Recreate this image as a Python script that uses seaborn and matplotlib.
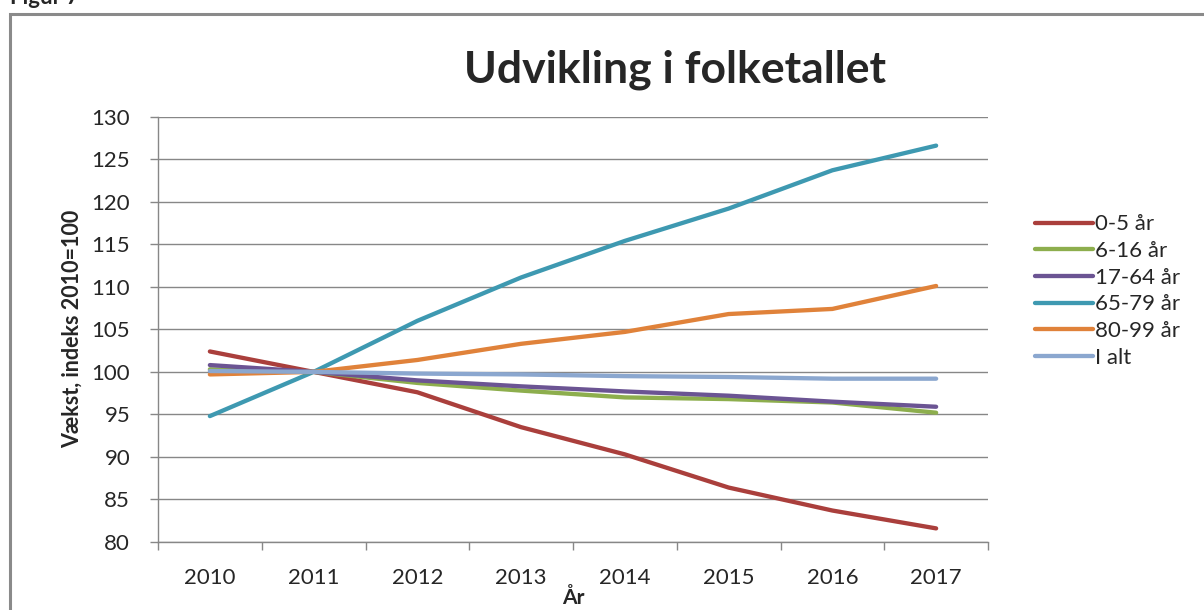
import pandas as pd
import seaborn as sns
import matplotlib.pyplot as plt
from matplotlib.patches import Rectangle

years = [2010, 2011, 2012, 2013, 2014, 2015, 2016, 2017]
groups = ["0-5 år", "6-16 år", "17-64 år", "65-79 år", "80-99 år", "I alt"]

age_0_5 = [102.4, 100.0, 97.6, 93.5, 90.3, 86.4, 83.7, 81.6]
age_6_16 = [100.3, 100.0, 98.7, 97.8, 97.0, 96.8, 96.4, 95.2]
age_17_64 = [100.8, 100.0, 99.0, 98.3, 97.7, 97.2, 96.5, 95.9]
age_65_79 = [94.8, 100.0, 106.0, 111.1, 115.4, 119.2, 123.7, 126.6]
age_80_99 = [99.7, 100.0, 101.4, 103.3, 104.7, 106.8, 107.4, 110.1]
total = [100.1, 100.0, 99.8, 99.7, 99.5, 99.4, 99.2, 99.2]

colors = ["#AA3F3C", "#8DAE4D", "#6B5493", "#3E99B1", "#E0823A", "#8BA7CF"]

series = [age_0_5, age_6_16, age_17_64, age_65_79, age_80_99, total]
rows = []
for name, vals in zip(groups, series):
    for y, v in zip(years, vals):
        rows.append({"year": y, "value": v, "group": name})
df = pd.DataFrame(rows)

sns.set_style("white")
plt.rcParams["font.family"] = ["Lato", "DejaVu Sans"]

fig = plt.figure(figsize=(12.04, 6.10), dpi=100)
ax = fig.add_axes([158 / 1204, 1 - 542 / 610, (988 - 158) / 1204, (542 - 116.7) / 610])

sns.lineplot(data=df, x="year", y="value", hue="group", hue_order=groups,
             palette=colors, linewidth=3.1, ax=ax, legend=True)

grid_col = "#878787"
ax.set_xlim(2009.5, 2017.5)
ax.set_ylim(80, 130)
ax.set_yticks(range(80, 131, 5))
ax.set_xticks(years)
ax.set_xticks([y - 0.5 for y in years] + [2017.5], minor=True)
ax.grid(axis="y", color=grid_col, linewidth=1.0)
ax.set_axisbelow(True)
for s in ["top", "right"]:
    ax.spines[s].set_visible(False)
for s in ["left", "bottom"]:
    ax.spines[s].set_color(grid_col)
    ax.spines[s].set_linewidth(1.0)

ax.tick_params(axis="y", which="major", length=6, width=1, color=grid_col,
               pad=14, labelsize=16, left=True)
ax.tick_params(axis="x", which="major", length=0, pad=19, labelsize=16)
ax.tick_params(axis="x", which="minor", length=6, width=1, color=grid_col, bottom=True)

ax.set_xlabel("År", fontsize=15, fontweight="bold", labelpad=0)
ax.set_ylabel("Vækst, indeks 2010=100", fontsize=15.5, fontweight="bold", labelpad=6)

fig.text(675 / 1204, 1 - 70 / 610, "Udvikling i folketallet", fontsize=32, fontweight="bold",
         ha="center", va="center")
fig.text(10 / 1204, 1 - 4 / 610, "Figur 7", fontsize=16, fontweight="bold",
         ha="left", va="baseline")

fig.patches.append(Rectangle((10 / 1204, -0.1), 1.2, 1.1 - 14 / 610,
                             transform=fig.transFigure, fill=False,
                             edgecolor="#8A8A8A", linewidth=2.2))

leg = ax.legend(loc="center left", bbox_to_anchor=(1035 / 1204, 1 - 291 / 610),
                bbox_transform=fig.transFigure, frameon=False, fontsize=16,
                handlelength=2.6, handletextpad=0.12, labelspacing=0.3,
                borderpad=0, borderaxespad=0)
for line in leg.get_lines():
    line.set_linewidth(3.1)

fig.savefig("out.png", dpi=100)
